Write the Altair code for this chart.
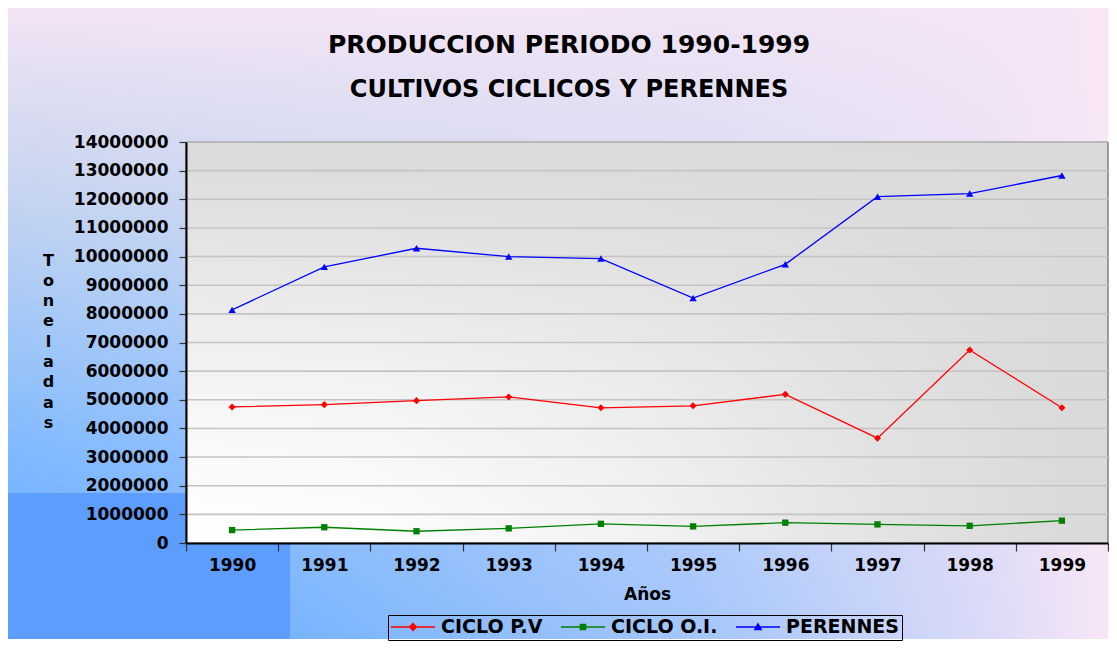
import altair as alt
import pandas as pd

years = ["1990", "1991", "1992", "1993", "1994", "1995", "1996", "1997", "1998", "1999"]
ciclo_pv = [4750000, 4830000, 4970000, 5100000, 4720000, 4790000, 5190000, 3660000, 6740000, 4720000]
ciclo_oi = [450000, 550000, 410000, 510000, 670000, 580000, 710000, 650000, 600000, 780000]
perennes = [8140000, 9640000, 10290000, 10000000, 9930000, 8550000, 9730000, 12090000, 12200000, 12830000]

series_names = ["CICLO P.V", "CICLO O.I.", "PERENNES"]
series_colors = ["#ff0000", "#008000", "#0000ff"]
marker_shapes = ["diamond", "square", "triangle-up"]
marker_sizes = [50, 40, 55]
legend_paths = [
    "M-1,-0.03L1,-0.03L1,0.03L-1,0.03ZM-0.2,0L0,-0.2L0.2,0L0,0.2Z",
    "M-1,-0.03L1,-0.03L1,0.03L-1,0.03ZM-0.15,-0.15L0.15,-0.15L0.15,0.15L-0.15,0.15Z",
    "M-1,-0.03L1,-0.03L1,0.03L-1,0.03ZM0,-0.2L0.2,0.15L-0.2,0.15Z",
]
y_ticks = list(range(0, 14000001, 1000000))
title_text = "PRODUCCION PERIODO 1990-1999"
subtitle_text = "CULTIVOS CICLICOS Y PERENNES"

rows = []
for name, vals in zip(series_names, [ciclo_pv, ciclo_oi, perennes]):
    for yr, v in zip(years, vals):
        rows.append({"year": yr, "value": v, "series": name})
df = pd.DataFrame(rows)
ticks_df = pd.DataFrame({"tick": y_ticks})

W, H = 922, 401
FONT = "DejaVu Sans"
YDOM = [0, 14000000]

x_enc = alt.X(
    "year:O",
    scale=alt.Scale(type="band", paddingInner=0, paddingOuter=0),
    bandPosition=0.5,
    axis=alt.Axis(
        title="Años", tickBand="extent", labelAngle=0, grid=False,
        labelFont=FONT, labelFontSize=17, labelFontWeight="bold", labelColor="black",
        labelPadding=6, tickSize=8, tickColor="#333333", tickWidth=1.2,
        domainColor="black", domainWidth=2,
        titleFont=FONT, titleFontSize=17, titleFontWeight="bold", titleColor="black",
        titleBaseline="middle", titleY=51, zindex=1,
    ),
)
y_axis = alt.Axis(
    title=["T", "o", "n", "e", "l", "a", "d", "a", "s"],
    values=y_ticks, format="d", grid=False, labelOverlap=False,
    labelFont=FONT, labelFontSize=17, labelFontWeight="bold", labelColor="black",
    labelPadding=11, tickSize=7, tickColor="#333333", tickWidth=1.2,
    domainColor="black", domainWidth=2,
    titleFont=FONT, titleFontSize=16, titleFontWeight="bold", titleColor="black",
    titleAngle=0, titleAlign="center", titleBaseline="middle",
    titleX=-138, titleY=118, titleLineHeight=20.3, zindex=1,
)
y_scale = alt.Scale(domain=YDOM, nice=False, zero=True)
y_enc = alt.Y("value:Q", scale=y_scale, axis=y_axis)

blank = alt.Data(values=[{}])

BGX1, BGX2, BGY1, BGY2 = -178, 922, -134, 497

bg_vertical = alt.Chart(blank).mark_rect(
    fill={
        "gradient": "linear", "x1": 0, "y1": 1, "x2": 0, "y2": 0,
        "stops": [
            {"offset": 0, "color": "#5aa8ff"},
            {"offset": 0.3, "color": "#80b9ff"},
            {"offset": 0.52, "color": "#a6c9f6"},
            {"offset": 0.72, "color": "#c8d5f0"},
            {"offset": 0.85, "color": "#dadcf1"},
            {"offset": 1, "color": "#f4e4f5"},
        ],
    }
).encode(x=alt.value(BGX1), x2=alt.value(BGX2), y=alt.value(BGY1), y2=alt.value(BGY2))

bg_horizontal = alt.Chart(blank).mark_rect(
    fill={
        "gradient": "linear", "x1": 0, "y1": 0, "x2": 1, "y2": 0,
        "stops": [
            {"offset": 0, "color": "rgba(246,230,246,0)"},
            {"offset": 0.27, "color": "rgba(246,230,246,0.2)"},
            {"offset": 0.63, "color": "rgba(238,228,246,0.5)"},
            {"offset": 0.9, "color": "rgba(244,228,246,0.85)"},
            {"offset": 1, "color": "rgba(248,230,246,1)"},
        ],
    }
).encode(x=alt.value(BGX1), x2=alt.value(BGX2), y=alt.value(BGY1), y2=alt.value(BGY2))

dark = alt.Chart(blank).mark_rect(fill="#5c9dfd").encode(
    x=alt.value(BGX1), x2=alt.value(104), y=alt.value(351), y2=alt.value(BGY2)
)

plot_vertical = alt.Chart(blank).mark_rect(
    fill={
        "gradient": "linear", "x1": 0, "y1": 1, "x2": 0, "y2": 0,
        "stops": [
            {"offset": 0, "color": "#ffffff"},
            {"offset": 0.35, "color": "#f6f6f6"},
            {"offset": 0.7, "color": "#e6e6e6"},
            {"offset": 1, "color": "#dadada"},
        ],
    },
).encode(x=alt.value(0), x2=alt.value("width"), y=alt.value(0), y2=alt.value("height"))

plot_horizontal = alt.Chart(blank).mark_rect(
    fill={
        "gradient": "linear", "x1": 0, "y1": 0, "x2": 1, "y2": 0,
        "stops": [
            {"offset": 0, "color": "rgba(218,218,218,0)"},
            {"offset": 0.2, "color": "rgba(218,218,218,0.05)"},
            {"offset": 0.5, "color": "rgba(218,218,218,0.35)"},
            {"offset": 0.75, "color": "rgba(218,218,218,0.75)"},
            {"offset": 0.95, "color": "rgba(218,218,218,1)"},
        ],
    },
    stroke="#4a4a4a", strokeWidth=1,
).encode(x=alt.value(0), x2=alt.value("width"), y=alt.value(0), y2=alt.value("height"))

grid = alt.Chart(ticks_df).mark_rule(color="#c4c4c4", strokeWidth=1.6).encode(
    y=alt.Y("tick:Q", scale=y_scale, axis=y_axis)
)

title_mark = alt.Chart(blank).mark_text(
    font=FONT, fontSize=25, fontWeight="bold", color="black", align="center", baseline="middle"
).encode(x=alt.value(383), y=alt.value(-97), text=alt.value(title_text))
subtitle_mark = alt.Chart(blank).mark_text(
    font=FONT, fontSize=24, fontWeight="bold", color="black", align="center", baseline="middle"
).encode(x=alt.value(383), y=alt.value(-52), text=alt.value(subtitle_text))

series_layers = []
for name, col in zip(series_names, series_colors):
    series_layers.append(
        alt.Chart(df).transform_filter(alt.datum.series == name)
        .mark_line(color=col, strokeWidth=1.3)
        .encode(x=x_enc, y=y_enc)
    )
for name, col, shp, sz in zip(series_names, series_colors, marker_shapes, marker_sizes):
    series_layers.append(
        alt.Chart(df).transform_filter(alt.datum.series == name)
        .mark_point(filled=True, shape=shp, size=sz, color=col, opacity=1)
        .encode(x=x_enc, y=y_enc)
    )

leg = alt.Legend(
    title=None, orient="none", legendX=202, legendY=473, direction="horizontal",
    symbolSize=1936, symbolStrokeWidth=0, clipHeight=18, columnPadding=18,
    labelFont=FONT, labelFontSize=19, labelFontWeight="bold", labelColor="black",
    labelOffset=6, padding=3, strokeColor="black", symbolOpacity=1,
)
legend_layer = alt.Chart(df).transform_calculate(
    hidden="-datum.value"
).mark_point(filled=True, size=1936, clip=True).encode(
    x=x_enc,
    y=alt.Y("hidden:Q", scale=y_scale, axis=y_axis),
    color=alt.Color("series:N", scale=alt.Scale(domain=series_names, range=series_colors), legend=leg),
    shape=alt.Shape("series:N", scale=alt.Scale(domain=series_names, range=legend_paths), legend=leg),
)

chart = alt.layer(
    bg_vertical, bg_horizontal, dark, plot_vertical, plot_horizontal, grid,
    title_mark, subtitle_mark, *series_layers, legend_layer
).properties(
    width=W, height=H, padding=0,
).configure_view(strokeWidth=0)

chart.save("out.html", embed_options={"renderer": "svg", "actions": False})
